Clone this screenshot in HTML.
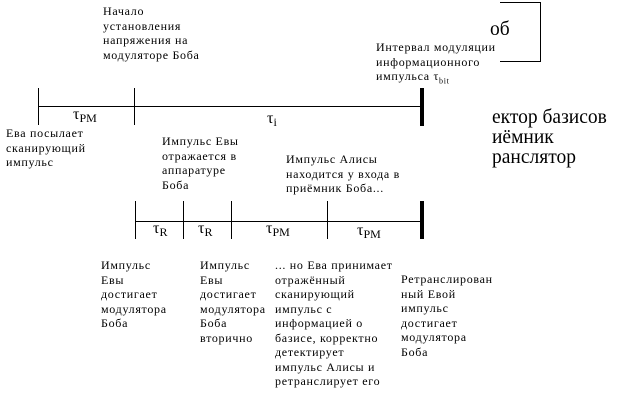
<!DOCTYPE html>
<html><head><meta charset="utf-8"><style>
body{margin:0;width:622px;height:401px;background:#fff;position:relative;overflow:hidden;font-family:"Liberation Serif",serif;color:#000}
.t{position:absolute;font-size:12px;line-height:14.5px;white-space:nowrap;letter-spacing:0.7px}
.b{position:absolute;font-size:19.5px;line-height:20px;white-space:nowrap}
.l{position:absolute;background:#000}
.tau{position:absolute;font-size:16px;white-space:nowrap}
.tau sub{font-size:12px;vertical-align:-3px}
</style></head><body>
<div class="l" style="left:500px;top:2px;width:41px;height:1px"></div>
<div class="l" style="left:540px;top:2px;width:1px;height:60px"></div>
<div class="l" style="left:500px;top:61px;width:41px;height:1px"></div>
<div class="b" style="left:490px;top:20px">об</div>
<div class="b" style="left:492px;top:108px">ектор базисов<br>иёмник<br>ранслятор</div>
<div class="l" style="left:38px;top:106px;width:383px;height:1px"></div>
<div class="l" style="left:38px;top:88px;width:1px;height:37px"></div>
<div class="l" style="left:134px;top:88px;width:1px;height:37px"></div>
<div class="l" style="left:420px;top:88px;width:4px;height:38px"></div>
<div class="tau" style="left:73px;top:106px">τ<sub>PM</sub></div>
<div class="tau" style="left:267px;top:110px">τ<sub>i</sub></div>
<div class="l" style="left:135px;top:221px;width:286px;height:1px"></div>
<div class="l" style="left:135px;top:201px;width:1px;height:38px"></div>
<div class="l" style="left:183px;top:201px;width:1px;height:38px"></div>
<div class="l" style="left:231px;top:201px;width:1px;height:38px"></div>
<div class="l" style="left:327px;top:201px;width:1px;height:38px"></div>
<div class="l" style="left:420px;top:201px;width:4px;height:38px"></div>
<div class="tau" style="left:153px;top:220px">τ<sub>R</sub></div>
<div class="tau" style="left:198px;top:220px">τ<sub>R</sub></div>
<div class="tau" style="left:266px;top:220px">τ<sub>PM</sub></div>
<div class="tau" style="left:357px;top:222px">τ<sub>PM</sub></div>
<div class="t" style="left:103px;top:4px">Начало<br>установления<br>напряжения на<br>модуляторе Боба</div>
<div class="t" style="left:376px;top:40px">Интервал модуляции<br>информационного<br>импульса τ<sub style="font-size:8px">bit</sub></div>
<div class="t" style="left:6px;top:126px">Ева посылает<br>сканирующий<br>импульс</div>
<div class="t" style="left:162px;top:134px">Импульс Евы<br>отражается в<br>аппаратуре<br>Боба</div>
<div class="t" style="left:286px;top:152px">Импульс Алисы<br>находится у входа в<br>приёмник Боба...</div>
<div class="t" style="left:101px;top:258px">Импульс<br>Евы<br>достигает<br>модулятора<br>Боба</div>
<div class="t" style="left:200px;top:258px">Импульс<br>Евы<br>достигает<br>модулятора<br>Боба<br>вторично</div>
<div class="t" style="left:275px;top:258px">... но Ева принимает<br>отражённый<br>сканирующий<br>импульс с<br>информацией о<br>базисе, корректно<br>детектирует<br>импульс Алисы и<br>ретранслирует его</div>
<div class="t" style="left:401px;top:272px">Ретранслирован<br>ный Евой<br>импульс<br>достигает<br>модулятора<br>Боба</div>
</body></html>
